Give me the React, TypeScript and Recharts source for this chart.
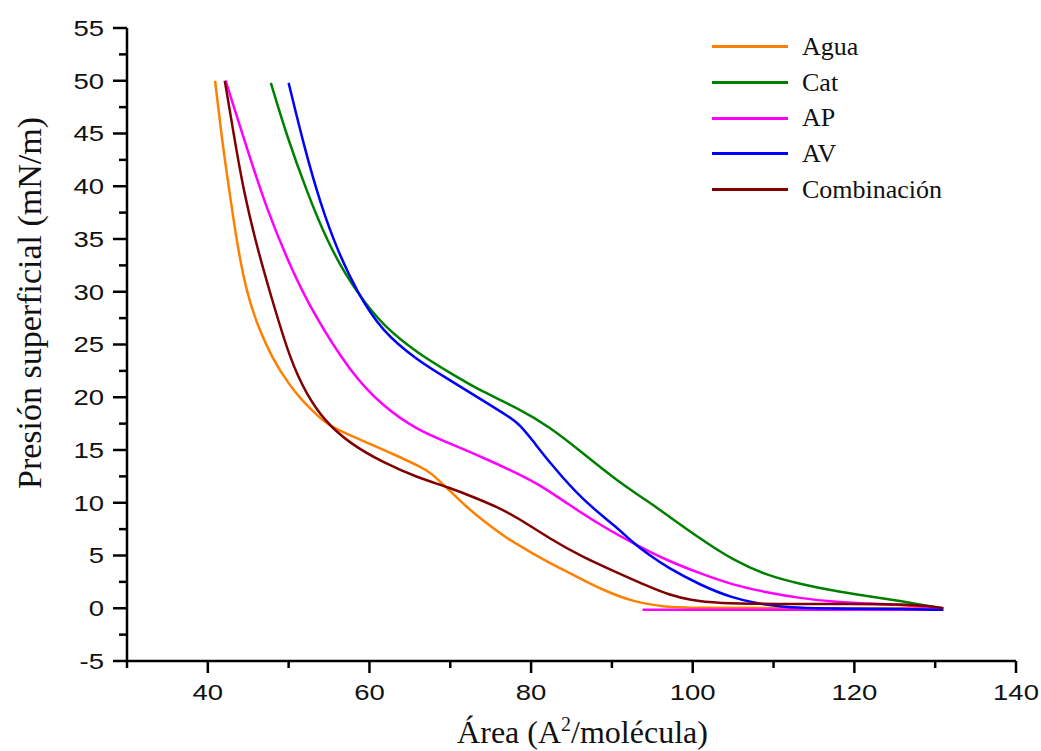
import React from "react";
import { LineChart, Line, XAxis, YAxis, Legend } from "recharts";

// Isotermas: área (A²/molécula) vs presión superficial (mN/m)
const aguaX = [40.9, 41.8, 42.7, 43.6, 44.8, 46.2, 48.1, 50.0, 51.4, 53.5, 55.0, 57.6, 60.0, 63.0, 66.6, 67.5, 69.6, 72.0, 74.0, 77.0, 80.2, 83.0, 86.4, 89.0, 92.6, 96.8, 100, 110, 120, 131];
const aguaY = [50, 44.1, 39.4, 34.6, 29.9, 26.7, 23.5, 21.3, 19.9, 18.3, 17.3, 16.4, 15.6, 14.6, 13.3, 12.9, 11.4, 9.6, 8.35, 6.6, 5.2, 4.0, 2.7, 1.7, 0.6, 0.1, 0.05, 0, 0, 0];

const catX = [47.8, 49.8, 52.3, 54.7, 57.2, 59.2, 61.7, 65.9, 70, 74, 78.3, 82.3, 86.4, 90.6, 94.7, 96.8, 100.9, 105, 109.2, 113.3, 117.4, 121.6, 125.6, 128.5, 131];
const catY = [49.8, 44.7, 39.4, 34.9, 31.4, 29.2, 26.8, 24.2, 22.3, 20.5, 19, 17.2, 14.7, 12.1, 10.0, 8.85, 6.6, 4.55, 3.1, 2.3, 1.65, 1.15, 0.7, 0.3, 0];

const apX = [42.2, 44.8, 47.3, 50.2, 53, 57.6, 61.7, 65.9, 70, 74, 78.3, 81.5, 84.4, 88.5, 93.5, 96.8, 100.9, 105, 109.2, 113.3, 117.4, 121.6, 126, 131];
const apY = [50, 43.7, 37.8, 32.4, 28, 22.4, 19.1, 16.9, 15.6, 14.3, 12.8, 11.5, 9.96, 7.9, 5.8, 4.55, 3.3, 2.2, 1.5, 0.95, 0.6, 0.45, 0.3, 0];
const apBaseX = [93.8, 131];
const apBaseY = [-0.15, -0.15];

const avX = [50, 52, 54, 56, 58.5, 61.5, 65.9, 70, 74, 77.4, 78.6, 80.2, 82.3, 86.4, 90.6, 92.6, 94.7, 96.8, 100.9, 105, 108, 111.2, 115, 120, 125, 131];
const avY = [49.8, 43.5, 38.2, 34, 29.9, 26.3, 23.5, 21.6, 19.7, 18.1, 17.4, 15.9, 13.8, 10.2, 7.7, 6.2, 5.0, 3.9, 2.2, 0.95, 0.45, 0.1, 0, -0.05, -0.05, -0.15];

const combX = [42.1, 43.1, 44.4, 46.1, 47.7, 50.2, 52.2, 54.5, 57.6, 61.7, 65.9, 70, 73, 75.8, 78.3, 82.3, 86.4, 90.6, 94.7, 97, 99.7, 103, 110, 120, 128, 131];
const combY = [50, 45.4, 39.6, 34.2, 29.9, 23.5, 20.3, 17.7, 15.6, 13.8, 12.4, 11.4, 10.5, 9.6, 8.6, 6.6, 4.84, 3.4, 2.0, 1.3, 0.76, 0.47, 0.4, 0.4, 0.35, 0];

const seriesNames = ["Agua", "Cat", "AP", "AV", "Combinación"];
const xTicks = [30, 40, 50, 60, 70, 80, 90, 100, 110, 120, 130, 140];
const yTicks = [-5, -2.5, 0, 2.5, 5, 7.5, 10, 12.5, 15, 17.5, 20, 22.5, 25, 27.5, 30, 32.5, 35, 37.5, 40, 42.5, 45, 47.5, 50, 52.5, 55];

const toPoints = (xs: number[], ys: number[]) => xs.map((x, i) => ({ x, y: ys[i] }));

const tickFont = "'Liberation Sans', Arial, sans-serif";
const serif = "'Liberation Serif', 'Times New Roman', serif";

const YTick = (props: any) => {
  const { x, y, payload } = props;
  const major = payload.value % 5 === 0;
  return (
    <g>
      <line x1={x - (major ? 14 : 8)} x2={x} y1={y} y2={y} stroke="#000" strokeWidth={2.5} />
      {major && (
        <text
          transform={`translate(${x - 23},${y}) scale(1.25,1)`}
          textAnchor="end"
          dy="0.36em"
          fontSize={22}
          fontFamily={tickFont}
          fill="#111"
        >
          {payload.value}
        </text>
      )}
    </g>
  );
};

const XTick = (props: any) => {
  const { x, y, payload } = props;
  const v = payload.value;
  const major = v >= 40 && (v - 40) % 20 === 0;
  return (
    <g>
      <line x1={x} x2={x} y1={y} y2={y + (major ? 12 : 7)} stroke="#000" strokeWidth={2.5} />
      {major && (
        <text
          transform={`translate(${x},${y + 39}) scale(1.25,1)`}
          textAnchor="middle"
          fontSize={22}
          fontFamily={tickFont}
          fill="#111"
        >
          {v}
        </text>
      )}
    </g>
  );
};

const LegendBox = (props: any) => {
  const items = (props.payload || [])
    .filter((p: any) => p.type !== "none")
    .sort((a: any, b: any) => seriesNames.indexOf(a.value) - seriesNames.indexOf(b.value));
  return (
    <div>
      {items.map((p: any) => (
        <div key={p.value} style={{ display: "flex", alignItems: "center", height: 35.7 }}>
          <div style={{ width: 76, height: 3, background: p.color, marginRight: 14 }} />
          <span style={{ fontFamily: serif, fontSize: 26, color: "#111", lineHeight: "26px" }}>{p.value}</span>
        </div>
      ))}
    </div>
  );
};

export default function App() {
  return (
    <div style={{ position: "fixed", left: 0, top: 0, width: 1041, height: 751, background: "#fff" }}>
      <LineChart
        width={1041}
        height={751}
        margin={{ top: 28, right: 25, left: 0, bottom: 0 }}
      >
        <XAxis
          type="number"
          dataKey="x"
          domain={[30, 140]}
          ticks={xTicks}
          interval={0}
          height={90}
          tickSize={0}
          tickMargin={0}
          tickLine={false}
          axisLine={{ stroke: "#000", strokeWidth: 2.5 }}
          tick={<XTick />}
          label={{
            content: (p: any) => {
              const vb = p.viewBox;
              return (
                <text x={vb.x + vb.width / 2 + 11} y={vb.y + 82} textAnchor="middle" fontFamily={serif} fontSize={32} fill="#111">
                  Área (A<tspan dy={-12} fontSize={20}>2</tspan>
                  <tspan dy={12}>/molécula)</tspan>
                </text>
              );
            },
          }}
        />
        <YAxis
          type="number"
          dataKey="y"
          domain={[-5, 55]}
          ticks={yTicks}
          interval={0}
          width={127}
          tickSize={0}
          tickMargin={0}
          tickLine={false}
          axisLine={{ stroke: "#000", strokeWidth: 2.5 }}
          tick={<YTick />}
          label={{
            content: (p: any) => {
              const vb = p.viewBox;
              return (
                <text
                  transform={`translate(41,${vb.y + 275}) rotate(-90)`}
                  textAnchor="middle"
                  fontFamily={serif}
                  fontSize={34}
                  fill="#111"
                >
                  Presión superficial (mN/m)
                </text>
              );
            },
          }}
        />
        <Legend
          verticalAlign="middle"
          align="center"
          layout="vertical"
          wrapperStyle={{ top: 29, left: 712, width: 320 }}
          content={<LegendBox />}
        />
        <Line data={toPoints(aguaX, aguaY)} dataKey="y" name="Agua" type="basis" stroke="#ff8000" strokeWidth={2.5} dot={false} isAnimationActive={false} />
        <Line data={toPoints(catX, catY)} dataKey="y" name="Cat" type="basis" stroke="#008000" strokeWidth={2.5} dot={false} isAnimationActive={false} />
        <Line data={toPoints(apX, apY)} dataKey="y" name="AP" type="basis" stroke="#ff00ff" strokeWidth={2.5} dot={false} isAnimationActive={false} />
        <Line data={toPoints(apBaseX, apBaseY)} dataKey="y" name="AP base" legendType="none" type="linear" stroke="#ff00ff" strokeWidth={2.5} dot={false} isAnimationActive={false} />
        <Line data={toPoints(avX, avY)} dataKey="y" name="AV" type="basis" stroke="#0000ff" strokeWidth={2.5} dot={false} isAnimationActive={false} />
        <Line data={toPoints(combX, combY)} dataKey="y" name="Combinación" type="basis" stroke="#800000" strokeWidth={2.5} dot={false} isAnimationActive={false} />
      </LineChart>
    </div>
  );
}
